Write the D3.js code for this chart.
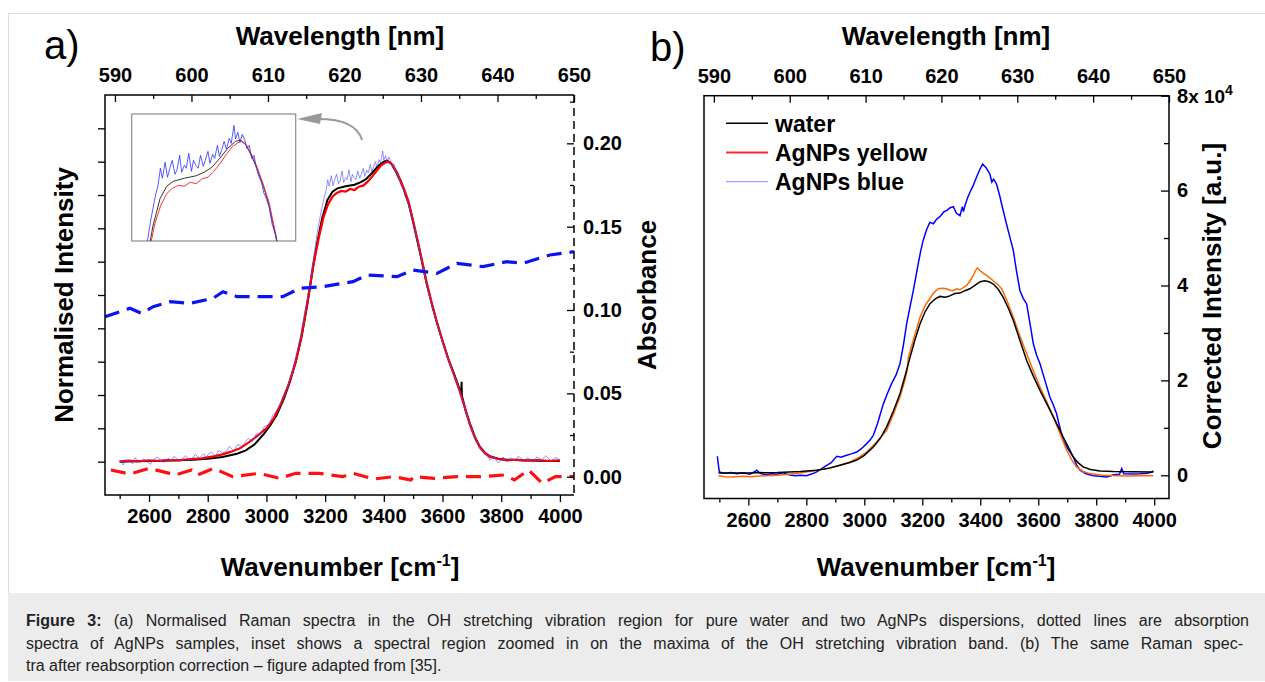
<!DOCTYPE html>
<html>
<head>
<meta charset="utf-8">
<script src="https://cdn.jsdelivr.net/npm/d3@7"></script>
<style>
body { margin: 0; background: #fff; }
svg { display: block; font-family: "Liberation Sans", Arial, sans-serif; }
</style>
</head>
<body>
<svg id="fig" width="1265" height="682"></svg>
<script>
// ---------- DATA ----------
// panel a: normalised Raman spectra [wavenumber, intensity]
var waterA = [[2500,0.000],[2550,0.001],[2600,0.002],[2650,0.003],[2700,0.004],[2750,0.006],[2800,0.009],[2850,0.014],[2900,0.024],[2930,0.034],[2960,0.052],[2990,0.082],[3010,0.105],[3035,0.140],[3060,0.190],[3080,0.240],[3100,0.300],[3120,0.375],[3140,0.475],[3160,0.590],[3175,0.665],[3190,0.730],[3208,0.785],[3225,0.810],[3242,0.820],[3270,0.826],[3300,0.831],[3320,0.838],[3340,0.848],[3360,0.866],[3380,0.886],[3400,0.900],[3412,0.903],[3425,0.895],[3440,0.872],[3455,0.845],[3470,0.812],[3485,0.773],[3500,0.718],[3515,0.660],[3530,0.600],[3546,0.534],[3565,0.468],[3580,0.420],[3600,0.362],[3620,0.308],[3640,0.262],[3655,0.225],[3664,0.205],[3665,0.240],[3666,0.198],[3680,0.150],[3693,0.115],[3710,0.075],[3727,0.045],[3745,0.026],[3761,0.016],[3790,0.009],[3820,0.006],[3870,0.004],[3930,0.003],[4000,0.002]];

var yellowA = [[2500,0.000],[2530,0.003],[2560,0.001],[2600,0.004],[2630,0.002],[2660,0.005],[2700,0.004],[2740,0.008],[2780,0.010],[2820,0.016],[2850,0.022],[2880,0.030],[2910,0.040],[2940,0.058],[2970,0.078],[3000,0.100],[3025,0.130],[3050,0.175],[3075,0.230],[3100,0.300],[3120,0.380],[3140,0.480],[3160,0.590],[3178,0.670],[3195,0.735],[3210,0.772],[3225,0.795],[3240,0.806],[3255,0.812],[3270,0.810],[3285,0.818],[3300,0.815],[3315,0.825],[3330,0.828],[3345,0.840],[3360,0.855],[3375,0.872],[3390,0.888],[3405,0.897],[3415,0.900],[3428,0.892],[3442,0.872],[3455,0.848],[3470,0.815],[3485,0.778],[3500,0.722],[3515,0.664],[3530,0.604],[3546,0.538],[3565,0.470],[3580,0.422],[3600,0.362],[3620,0.306],[3640,0.258],[3660,0.208],[3680,0.150],[3693,0.112],[3710,0.072],[3727,0.043],[3745,0.025],[3761,0.015],[3790,0.008],[3820,0.004],[3850,0.006],[3880,0.003],[3920,0.005],[3960,0.002],[4000,0.004]];

var blueA = [[2500,0.004],[2512,-0.010],[2521,0.006],[2533,0.001],[2545,-0.006],[2552,0.012],[2568,-0.002],[2581,0.008],[2590,0.003],[2605,-0.008],[2614,0.006],[2630,0.014],[2641,0.001],[2650,-0.002],[2666,0.010],[2677,0.004],[2685,0.016],[2703,0.002],[2712,0.008],[2725,0.018],[2737,0.006],[2750,0.012],[2757,0.022],[2772,0.010],[2786,0.024],[2794,0.014],[2811,0.030],[2826,0.016],[2838,0.034],[2851,0.026],[2863,0.030],[2874,0.046],[2889,0.032],[2902,0.052],[2915,0.046],[2927,0.058],[2938,0.070],[2952,0.060],[2966,0.084],[2978,0.080],[2993,0.106],[3008,0.110],[3022,0.140],[3040,0.158],[3055,0.192],[3070,0.222],[3085,0.262],[3100,0.315],[3115,0.372],[3130,0.445],[3145,0.520],[3160,0.610],[3172,0.680],[3184,0.740],[3196,0.790],[3203,0.812],[3209,0.846],[3214,0.826],[3221,0.858],[3227,0.828],[3233,0.846],[3239,0.862],[3246,0.834],[3251,0.842],[3258,0.872],[3263,0.838],[3270,0.852],[3275,0.846],[3281,0.876],[3288,0.840],[3293,0.862],[3299,0.852],[3305,0.846],[3311,0.872],[3318,0.850],[3323,0.862],[3330,0.880],[3335,0.856],[3342,0.874],[3347,0.866],[3354,0.892],[3359,0.870],[3366,0.886],[3371,0.900],[3377,0.884],[3384,0.906],[3389,0.896],[3396,0.932],[3400,0.905],[3406,0.918],[3411,0.898],[3417,0.914],[3423,0.904],[3429,0.886],[3435,0.892],[3441,0.866],[3447,0.872],[3453,0.846],[3460,0.828],[3466,0.818],[3472,0.796],[3479,0.784],[3486,0.766],[3493,0.734],[3502,0.712],[3515,0.660],[3530,0.598],[3546,0.530],[3565,0.465],[3580,0.418],[3600,0.358],[3620,0.304],[3640,0.258],[3660,0.205],[3675,0.168],[3690,0.120],[3705,0.085],[3720,0.052],[3735,0.032],[3748,0.024],[3762,0.004],[3774,0.016],[3791,-0.004],[3806,0.014],[3818,0.000],[3833,0.012],[3849,0.002],[3858,0.016],[3877,0.004],[3891,0.012],[3909,-0.002],[3921,0.014],[3938,0.006],[3952,0.018],[3969,0.002],[3984,0.012],[4000,0.006]];

// panel a: absorption spectra of the samples [wavenumber, absorbance]
var absBlue = [[2450,0.096],[2535,0.101],[2575,0.098],[2614,0.102],[2672,0.105],[2740,0.104],[2818,0.107],[2852,0.111],[2900,0.108],[2978,0.108],[3056,0.108],[3114,0.113],[3193,0.114],[3295,0.117],[3343,0.121],[3445,0.120],[3499,0.124],[3581,0.122],[3649,0.128],[3738,0.126],[3819,0.129],[3874,0.128],[3966,0.133],[4048,0.135]];
var absYellow = [[2470,0.004],[2535,0.0016],[2600,0.005],[2670,0.002],[2690,0.001],[2745,0.004],[2765,0.001],[2820,0.005],[2885,0.000],[2975,0.002],[3045,-0.001],[3100,0.002],[3180,0.002],[3260,0.000],[3295,0.002],[3365,-0.0014],[3435,0.000],[3492,-0.002],[3502,0.000],[3570,-0.001],[3650,0.000],[3730,0.000],[3810,0.001],[3845,-0.002],[3893,0.004],[3940,-0.004],[3985,0.000],[4048,0.000]];

// panel b: corrected spectra [wavenumber, intensity]
var waterB = [[2497,500],[2550,450],[2600,500],[2700,600],[2780,800],[2836,1050],[2880,1500],[2916,2100],[2950,2700],[2974,3200],[3000,4200],[3031,5960],[3055,7800],[3077,10200],[3100,13500],[3123,17200],[3140,20800],[3158,24900],[3175,28600],[3192,31900],[3210,34500],[3226,36100],[3245,37200],[3261,37700],[3280,37500],[3295,37800],[3312,38300],[3330,38400],[3347,38900],[3364,39300],[3385,40200],[3400,40800],[3415,41000],[3430,40800],[3445,40300],[3462,39200],[3479,37500],[3497,35200],[3514,32600],[3537,28400],[3560,24200],[3583,20900],[3606,17900],[3630,15000],[3652,12300],[3670,10100],[3686,8060],[3705,5800],[3721,3850],[3738,2600],[3755,1750],[3780,1200],[3813,910],[3860,800],[3920,750],[3997,700]];

var yellowB = [[2497,-100],[2520,-300],[2548,-350],[2580,-200],[2610,-300],[2640,-150],[2663,-100],[2700,0],[2740,200],[2778,480],[2820,900],[2870,1400],[2910,2000],[2951,2800],[2980,3700],[3008,4900],[3040,6800],[3077,9470],[3100,12800],[3123,16500],[3140,20000],[3148,22200],[3152,24900],[3170,28700],[3192,33300],[3210,35800],[3226,37200],[3240,38500],[3255,39300],[3270,39400],[3284,39300],[3296,39000],[3307,38900],[3318,39300],[3330,39100],[3342,39600],[3353,40000],[3365,41000],[3376,42100],[3384,43200],[3390,43700],[3398,43200],[3410,42600],[3428,41800],[3445,41000],[3460,40200],[3474,39300],[3494,36500],[3514,33300],[3537,29300],[3560,25600],[3583,22000],[3606,18600],[3630,15400],[3652,12300],[3675,8800],[3698,5260],[3715,3300],[3732,1750],[3755,800],[3778,350],[3820,0],[3870,-100],[3920,-150],[3960,-50],[3997,-100]];

var blueB = [[2493,4000],[2497,2000],[2500,700],[2520,400],[2540,600],[2560,300],[2580,500],[2606,200],[2620,700],[2629,1050],[2640,400],[2660,100],[2680,300],[2700,200],[2720,500],[2740,100],[2760,-100],[2780,0],[2800,-100],[2820,300],[2836,700],[2850,1300],[2870,2100],[2885,2600],[2905,4000],[2920,3800],[2939,4200],[2955,4500],[2974,4900],[2990,5600],[3008,6670],[3020,7400],[3031,8420],[3045,10800],[3066,15100],[3080,17300],[3094,19300],[3110,21200],[3123,23500],[3135,27500],[3146,31900],[3158,35600],[3169,38900],[3178,41900],[3186,44600],[3195,47400],[3203,49500],[3215,51800],[3226,53300],[3238,53000],[3250,54000],[3262,54600],[3274,55500],[3284,55800],[3296,56400],[3307,56600],[3318,55200],[3330,54700],[3338,56600],[3342,55600],[3347,56800],[3355,58300],[3364,59600],[3375,61000],[3387,62800],[3398,64400],[3408,65600],[3420,64800],[3433,63500],[3440,61800],[3446,62400],[3456,61400],[3467,58900],[3479,55800],[3496,51600],[3514,47400],[3525,43000],[3537,38900],[3548,37300],[3560,36100],[3572,31800],[3583,27700],[3595,25200],[3606,23500],[3623,20000],[3640,16500],[3652,14800],[3663,13000],[3675,10000],[3686,7370],[3703,5500],[3721,3850],[3732,2200],[3744,1050],[3765,300],[3790,-100],[3810,-200],[3836,-350],[3860,100],[3880,200],[3888,1400],[3895,300],[3920,250],[3950,300],[3975,400],[3990,600],[3997,900]];

// ticks / labels
var wnTicks = [2600, 2800, 3000, 3200, 3400, 3600, 3800, 4000];
var wnMinor = [2500, 2700, 2900, 3100, 3300, 3500, 3700, 3900];
var wlTicks = [590, 600, 610, 620, 630, 640, 650];
var wlMinor = [595, 605, 615, 625, 635, 645];
var normTicks = [0, 0.1, 0.2, 0.3, 0.4, 0.5, 0.6, 0.7, 0.8, 0.9, 1.0];
var absTicks = [0, 0.05, 0.10, 0.15, 0.20];
var absMinor = [0.025, 0.075, 0.125, 0.175, 0.225];
var corrTicks = [0, 20000, 40000, 60000, 80000];
var corrMinor = [10000, 30000, 50000, 70000];
var legendNames = ["water", "AgNPs yellow", "AgNPs blue"];
var captionLines = [
  "Figure 3: (a) Normalised Raman spectra in the OH stretching vibration region for pure water and two AgNPs dispersions, dotted lines are absorption",
  "spectra of AgNPs samples, inset shows a spectral region zoomed in on the maxima of the OH stretching vibration band. (b) The same Raman spec-",
  "tra after reabsorption correction \u2013 figure adapted from [35]."
];

// ---------- DRAWING ----------
var FONT = "'Liberation Sans', Arial, sans-serif";
var svg = d3.select("#fig");

// figure frame and caption box
svg.append("rect")
    .attr("x", 8.5).attr("y", 13.5)
    .attr("width", 1262).attr("height", 580)
    .attr("fill", "none").attr("stroke", "#dcdcdc");
svg.append("rect")
    .attr("x", 8).attr("y", 593)
    .attr("width", 1257).attr("height", 88)
    .attr("fill", "#ececec");

function styleAxis(g, fs) {
    g.attr("font-family", FONT).attr("font-size", fs).attr("font-weight", "bold");
    g.select(".domain").remove();
    g.selectAll("line").attr("stroke", "#000").attr("stroke-width", 1.3);
    g.selectAll("text").attr("fill", "#000");
    return g;
}

function axisTitle(x, y, rot) {
    return svg.append("text")
        .attr("text-anchor", "middle")
        .attr("font-family", FONT)
        .attr("font-size", 26)
        .attr("font-weight", "bold")
        .attr("transform", "translate(" + x + "," + y + ")" + (rot ? " rotate(-90)" : ""));
}

//////////
// PANEL A //
//////////
var xA = d3.scaleLinear().domain([2450, 4048]).range([105, 574]);
var yA = d3.scaleLinear().domain([-0.1, 1.1]).range([495, 95]);
var yAbs = d3.scaleLinear().domain([-0.011, 0.229]).range([495, 95]);
var wlA = d3.scaleLinear().domain([588.7, 650]).range([105, 574]);

var defs = svg.append("defs");
defs.append("clipPath").attr("id", "clipA")
    .append("rect").attr("x", 105).attr("y", 95).attr("width", 469).attr("height", 400);

var plotA = svg.append("g").attr("clip-path", "url(#clipA)");

var lineA = d3.line().x(function(d) { return xA(d[0]); }).y(function(d) { return yA(d[1]); });
var lineAbs = d3.line().x(function(d) { return xA(d[0]); }).y(function(d) { return yAbs(d[1]); });

plotA.append("path").datum(waterA).attr("d", lineA)
    .attr("fill", "none").attr("stroke", "#000").attr("stroke-width", 2);
plotA.append("path").datum(yellowA).attr("d", lineA)
    .attr("fill", "none").attr("stroke", "#ff0000").attr("stroke-width", 2.2);
plotA.append("path").datum(blueA).attr("d", lineA)
    .attr("fill", "none").attr("stroke", "#4a4aff").attr("stroke-opacity", 0.6).attr("stroke-width", 1);

plotA.append("path").datum(absBlue).attr("d", lineAbs)
    .attr("fill", "none").attr("stroke", "#0a14f0").attr("stroke-width", 3.2)
    .attr("stroke-dasharray", "15,8");
plotA.append("path").datum(absYellow).attr("d", lineAbs)
    .attr("fill", "none").attr("stroke", "#ff1010").attr("stroke-width", 3.2)
    .attr("stroke-dasharray", "15,8");

// frame of panel a (right spine dashed)
svg.append("path").attr("d", "M574,95H105V495H574")
    .attr("fill", "none").attr("stroke", "#000").attr("stroke-width", 1.5);
svg.append("line").attr("x1", 574).attr("x2", 574).attr("y1", 95).attr("y2", 495)
    .attr("stroke", "#000").attr("stroke-width", 1.5).attr("stroke-dasharray", "8,5");

// axes of panel a
styleAxis(svg.append("g").attr("transform", "translate(0,495)")
    .call(d3.axisBottom(xA).tickValues(wnTicks).tickSize(7).tickPadding(7).tickFormat(d3.format("d"))), 20);
styleAxis(svg.append("g").attr("transform", "translate(0,495)")
    .call(d3.axisBottom(xA).tickValues(wnMinor).tickSize(4).tickFormat("")), 20);
styleAxis(svg.append("g").attr("transform", "translate(0,95)")
    .call(d3.axisTop(wlA).tickValues(wlTicks).tickSize(-7).tickPadding(13).tickFormat(d3.format("d"))), 20);
styleAxis(svg.append("g").attr("transform", "translate(0,95)")
    .call(d3.axisTop(wlA).tickValues(wlMinor).tickSize(-4).tickFormat("")), 20);
styleAxis(svg.append("g").attr("transform", "translate(105,0)")
    .call(d3.axisLeft(yA).tickValues(normTicks).tickSize(7).tickFormat("")), 20);
styleAxis(svg.append("g").attr("transform", "translate(574,0)")
    .call(d3.axisRight(yAbs).tickValues(absTicks).tickSize(-7).tickPadding(9).tickFormat(d3.format(".2f"))), 20);
styleAxis(svg.append("g").attr("transform", "translate(574,0)")
    .call(d3.axisRight(yAbs).tickValues(absMinor).tickSize(-4).tickFormat("")), 20);

// titles of panel a
axisTitle(340, 45).text("Wavelength [nm]");
var tA = axisTitle(340, 576);
tA.append("tspan").text("Wavenumber [cm");
tA.append("tspan").attr("font-size", 16).attr("dy", -10).text("-1");
tA.append("tspan").attr("dy", 10).text("]");
axisTitle(73, 295, true).text("Normalised Intensity");
axisTitle(656, 295, true).text("Absorbance");

svg.append("text").attr("x", 44).attr("y", 59)
    .attr("font-family", FONT).attr("font-size", 40).text("a)");

// inset (zoom on the band maximum)
var xI = d3.scaleLinear().domain([3136, 3553]).range([131.7, 295.7]);
var yI = d3.scaleLinear().domain([0.70, 0.955]).range([241, 114]);
defs.append("clipPath").attr("id", "clipI")
    .append("rect").attr("x", 131.7).attr("y", 114).attr("width", 164).attr("height", 127);
svg.append("rect").attr("x", 131.7).attr("y", 114).attr("width", 164).attr("height", 127)
    .attr("fill", "#fff").attr("stroke", "#8a8a8a").attr("stroke-width", 1.2);
var lineI = d3.line().x(function(d) { return xI(d[0]); }).y(function(d) { return yI(d[1]); });
var inset = svg.append("g").attr("clip-path", "url(#clipI)");
inset.append("path").datum(waterA).attr("d", lineI)
    .attr("fill", "none").attr("stroke", "#333").attr("stroke-width", 1);
inset.append("path").datum(yellowA).attr("d", lineI)
    .attr("fill", "none").attr("stroke", "#ff3030").attr("stroke-width", 1);
inset.append("path").datum(blueA).attr("d", lineI)
    .attr("fill", "none").attr("stroke", "#2020ff").attr("stroke-opacity", 0.75).attr("stroke-width", 1);

// arrow pointing to the inset
svg.append("path").attr("d", "M362,140 Q356,119 318,119")
    .attr("fill", "none").attr("stroke", "#999").attr("stroke-width", 2);
svg.append("path").attr("d", "M297,119 L322,113 L320,124 Z").attr("fill", "#999");

//////////
// PANEL B //
//////////
var xB = d3.scaleLinear().domain([2447, 4051]).range([704, 1169]);
var yB = d3.scaleLinear().domain([-4900, 80000]).range([498.5, 95.7]);
var wlB = d3.scaleLinear().domain([588.7, 650]).range([704, 1169]);

defs.append("clipPath").attr("id", "clipB")
    .append("rect").attr("x", 704).attr("y", 95.7).attr("width", 465).attr("height", 402.8);
var plotB = svg.append("g").attr("clip-path", "url(#clipB)");
var lineB = d3.line().x(function(d) { return xB(d[0]); }).y(function(d) { return yB(d[1]); });

plotB.append("path").datum(blueB).attr("d", lineB)
    .attr("fill", "none").attr("stroke", "#0000ff").attr("stroke-width", 1.5);
plotB.append("path").datum(yellowB).attr("d", lineB)
    .attr("fill", "none").attr("stroke", "#ff6a00").attr("stroke-width", 1.5);
plotB.append("path").datum(waterB).attr("d", lineB)
    .attr("fill", "none").attr("stroke", "#000").attr("stroke-width", 1.5);

svg.append("rect").attr("x", 704).attr("y", 95.7).attr("width", 465).attr("height", 402.8)
    .attr("fill", "none").attr("stroke", "#000").attr("stroke-width", 1.5);

styleAxis(svg.append("g").attr("transform", "translate(0,498.5)")
    .call(d3.axisBottom(xB).tickValues(wnTicks).tickSize(7).tickPadding(7).tickFormat(d3.format("d"))), 20);
styleAxis(svg.append("g").attr("transform", "translate(0,498.5)")
    .call(d3.axisBottom(xB).tickValues(wnMinor).tickSize(4).tickFormat("")), 20);
styleAxis(svg.append("g").attr("transform", "translate(0,95.7)")
    .call(d3.axisTop(wlB).tickValues(wlTicks).tickSize(-7).tickPadding(13).tickFormat(d3.format("d"))), 20);
styleAxis(svg.append("g").attr("transform", "translate(0,95.7)")
    .call(d3.axisTop(wlB).tickValues(wlMinor).tickSize(-4).tickFormat("")), 20);
var rightB = styleAxis(svg.append("g").attr("transform", "translate(1169,0)")
    .call(d3.axisRight(yB).tickValues(corrTicks).tickSize(-8).tickPadding(8)
        .tickFormat(function(d) { return d / 10000; })), 20);
styleAxis(svg.append("g").attr("transform", "translate(1169,0)")
    .call(d3.axisRight(yB).tickValues(corrMinor).tickSize(-5).tickFormat("")), 20);

// multiplier on the top label
var topLab = rightB.selectAll(".tick").filter(function(d) { return d === 80000; }).select("text");
topLab.text(null);
topLab.append("tspan").text("8");
topLab.append("tspan").attr("font-size", 19).text("x 10");
topLab.append("tspan").attr("font-size", 14).attr("dy", -8).text("4");

axisTitle(946, 45).text("Wavelength [nm]");
var tB = axisTitle(936, 576);
tB.append("tspan").text("Wavenumber [cm");
tB.append("tspan").attr("font-size", 16).attr("dy", -10).text("-1");
tB.append("tspan").attr("dy", 10).text("]");
axisTitle(1221, 296, true).text("Corrected Intensity [a.u.]");

svg.append("text").attr("x", 650).attr("y", 61)
    .attr("font-family", FONT).attr("font-size", 40).text("b)");

// legend
var legColor = ["#000", "#ff2a2a", "#8c8cff"];
var legWidth = [1.5, 2, 1];
var leg = svg.selectAll(".leg").data(legendNames).enter().append("g").attr("class", "leg");
leg.append("line")
    .attr("x1", 726).attr("x2", 768)
    .attr("y1", function(d, i) { return 123.3 + i * 29.2; })
    .attr("y2", function(d, i) { return 123.3 + i * 29.2; })
    .attr("stroke", function(d, i) { return legColor[i]; })
    .attr("stroke-width", function(d, i) { return legWidth[i]; });
leg.append("text")
    .attr("x", 775)
    .attr("y", function(d, i) { return 131.7 + i * 29.2; })
    .attr("font-family", FONT).attr("font-size", 23).attr("font-weight", "bold")
    .text(function(d) { return d; });

//////////
// CAPTION //
//////////
// lines 1 and 2 are justified: glyphs stretched a little, the rest goes into the word gaps
var capY = [626, 648.5, 671];
var capLen = [1223, 1217, null];
captionLines.forEach(function(line, i) {
    var t = svg.append("text")
        .attr("x", 26).attr("y", capY[i])
        .attr("font-family", FONT).attr("font-size", 16).attr("fill", "#222");
    if (i === 0) {
        t.append("tspan").attr("font-weight", "bold").text("Figure 3:");
        t.append("tspan").text(line.slice(9));
    } else {
        t.text(line);
    }
    if (capLen[i]) {
        var natural = t.node().getComputedTextLength();
        var gaps = line.split(" ").length - 1;
        var extra = (capLen[i] - natural) / gaps;
        if (extra > 0) {
            t.attr("word-spacing", extra);
        } else {
            t.attr("textLength", capLen[i]).attr("lengthAdjust", "spacingAndGlyphs");
        }
    }
});
</script>
</body>
</html>
